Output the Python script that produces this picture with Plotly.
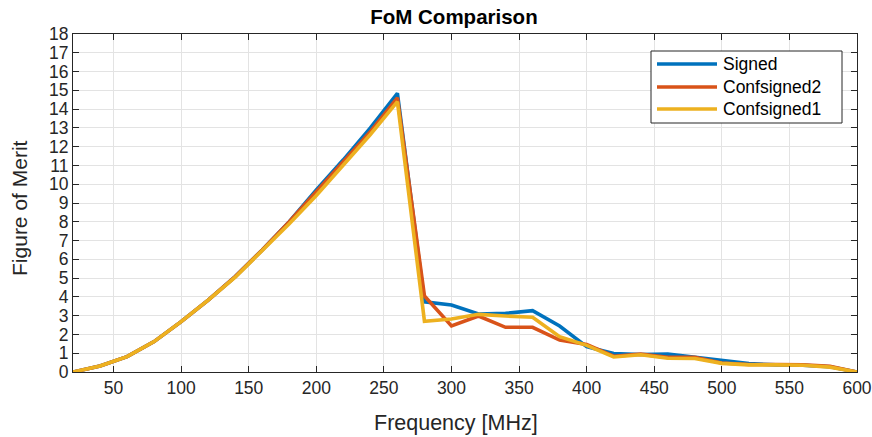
import plotly.graph_objects as go

freq = [20, 40, 60, 80, 100, 120, 140, 160, 180, 200, 220, 240, 260, 280, 300,
        320, 340, 360, 380, 400, 420, 440, 460, 480, 500, 520, 540, 560, 580, 600]

signed = [0.0, 0.32, 0.82, 1.62, 2.68, 3.83, 5.08, 6.5, 8.0, 9.7, 11.3, 13.0, 14.84, 3.74, 3.57,
          3.09, 3.12, 3.27, 2.45, 1.35, 0.98, 0.93, 0.95, 0.78, 0.59, 0.45, 0.38, 0.36, 0.28, 0.0]
confsigned2 = [0.0, 0.32, 0.82, 1.62, 2.68, 3.83, 5.08, 6.5, 8.0, 9.6, 11.15, 12.8, 14.6, 4.05, 2.45,
               2.98, 2.38, 2.38, 1.7, 1.47, 0.84, 0.95, 0.78, 0.78, 0.48, 0.4, 0.4, 0.38, 0.3, 0.0]
confsigned1 = [0.0, 0.32, 0.82, 1.62, 2.68, 3.83, 5.05, 6.45, 7.9, 9.4, 11.0, 12.65, 14.4, 2.7, 2.82,
               3.07, 2.98, 2.92, 1.88, 1.42, 0.8, 0.92, 0.73, 0.72, 0.46, 0.38, 0.38, 0.36, 0.26, 0.0]

series = [("Signed", signed, "#0072BD"),
          ("Confsigned2", confsigned2, "#D95319"),
          ("Confsigned1", confsigned1, "#EDB120")]

x_ticks = list(range(50, 601, 50))
y_ticks = list(range(0, 19))

FONT = "Liberation Sans"
TXT = "#262626"

W, H = 872, 437
ML, MR, MT, MB = 73, 15, 34, 65
PW, PH = W - ML - MR, H - MT - MB


def fx(px):
    return (px - ML) / PW


def fy(py):
    return (H - MB - py) / PH


fig = go.Figure()
for name, vals, color in series:
    fig.add_trace(go.Scatter(x=freq, y=vals, mode="lines", name=name, showlegend=False,
                             line=dict(color=color, width=3.6)))

axis_common = dict(showline=True, linecolor=TXT, linewidth=1, mirror="allticks",
                   ticks="inside", ticklen=6, tickcolor=TXT, showgrid=True,
                   gridcolor="#e3e3e3", gridwidth=1, zeroline=False, automargin=False,
                   ticklabeloverflow="allow",
                   tickfont=dict(family=FONT, size=17.5, color=TXT))

# legend drawn manually (box, line samples, labels)
shapes = [dict(type="rect", xref="paper", yref="paper", x0=fx(651), x1=fx(842),
               y0=fy(123), y1=fy(51), line=dict(color=TXT, width=1), fillcolor="white",
               layer="above")]
annotations = [
    dict(text="Frequency [MHz]", xref="paper", yref="paper", x=0.488, y=-0.151,
         xanchor="center", yanchor="middle", showarrow=False,
         font=dict(family=FONT, size=21.5, color=TXT)),
    dict(text="Figure of Merit", xref="paper", yref="paper", x=-0.069, y=0.485,
         xanchor="center", yanchor="middle", showarrow=False, textangle=-90,
         font=dict(family=FONT, size=21, color=TXT)),
]
entry_y = [64, 87, 109]
for (name, vals, color), ey in zip(series, entry_y):
    shapes.append(dict(type="line", xref="paper", yref="paper", x0=fx(657), x1=fx(717),
                       y0=fy(ey), y1=fy(ey), line=dict(color=color, width=3.6), layer="above"))
    annotations.append(dict(text=name, xref="paper", yref="paper", x=fx(721), y=fy(ey),
                            xanchor="left", yanchor="middle", showarrow=False,
                            font=dict(family=FONT, size=17.5, color="black")))

fig.update_layout(
    width=W, height=H,
    margin=dict(l=ML, r=MR, t=MT, b=MB),
    paper_bgcolor="white", plot_bgcolor="white",
    title=dict(text="<b>FoM Comparison</b>", x=0.5206, xanchor="center", y=0.961, yanchor="middle",
               font=dict(family=FONT, size=20.5, color="black")),
    xaxis=dict(range=[20, 600], tickvals=x_ticks, **axis_common),
    yaxis=dict(range=[0, 18], tickvals=y_ticks, **axis_common),
    shapes=shapes,
    annotations=annotations,
    showlegend=False,
)

fig.write_html("out.html")
